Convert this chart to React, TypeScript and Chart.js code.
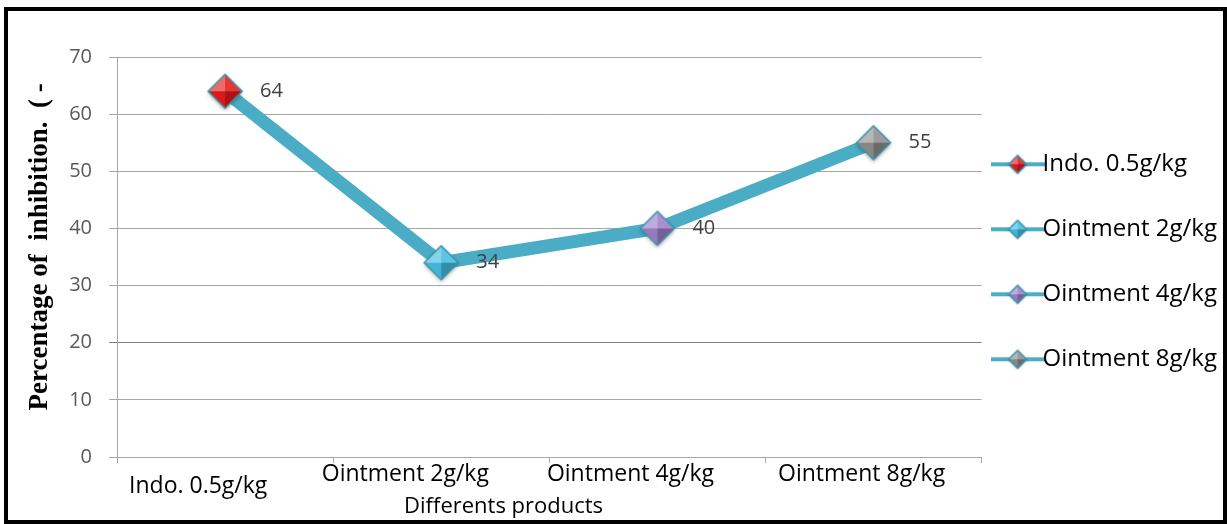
import React, { useEffect, useRef } from 'react';
import { Chart, registerables } from 'chart.js';

Chart.register(...registerables);

// ---- data ----
const categories = ['Indo. 0.5g/kg', 'Ointment 2g/kg', 'Ointment 4g/kg', 'Ointment 8g/kg'];
const values = [64, 34, 40, 55];
const markerColors = ['#E31B1B', '#45BDE2', '#9E80C9', '#8E8E8E'];
const yMin = 0;
const yMax = 70;
const yStep = 10;
const yTitle = 'Percentage of  inhibition.  ( -';
const xTitle = 'Differents products';

// ---- style / layout ----
const LINE_COLOR = '#4BACC6';
const MARKER_EDGE = '#3A94AA';
const GRID = '#a6a6a6';
const GRID_DARK = '#7f7f7f';
const SANS = '"Open Sans", "DejaVu Sans", sans-serif';
const tickShiftSpaces = [9, 12, 9, 4];
const xTitleShiftSpaces = 16;
const yTitleLeadSpaces = 3;

function shade(hex: string, amt: number): string {
  const n = parseInt(hex.slice(1), 16);
  let r = (n >> 16) & 255;
  let g = (n >> 8) & 255;
  let b = n & 255;
  const t = amt < 0 ? 0 : 255;
  const p = Math.abs(amt);
  r = Math.round(r + (t - r) * p);
  g = Math.round(g + (t - g) * p);
  b = Math.round(b + (t - b) * p);
  return `rgb(${r},${g},${b})`;
}

function drawDiamond(ctx: CanvasRenderingContext2D, cx: number, cy: number, r: number, color: string, shadow: number) {
  const L: [number, number] = [cx - r, cy];
  const T: [number, number] = [cx, cy - r];
  const R: [number, number] = [cx + r, cy];
  const B: [number, number] = [cx, cy + r];
  const path = () => {
    ctx.beginPath();
    ctx.moveTo(L[0], L[1]);
    ctx.lineTo(T[0], T[1]);
    ctx.lineTo(R[0], R[1]);
    ctx.lineTo(B[0], B[1]);
    ctx.closePath();
  };
  ctx.save();
  if (shadow > 0) {
    ctx.shadowColor = 'rgba(0,0,0,0.35)';
    ctx.shadowBlur = shadow;
    ctx.shadowOffsetY = shadow / 2;
  }
  path();
  ctx.fillStyle = color;
  ctx.fill();
  ctx.restore();
  const facets: Array<[[number, number], [number, number], number]> = [
    [L, T, 0.35],
    [T, R, 0.12],
    [R, B, -0.25],
    [B, L, -0.05],
  ];
  for (const [a, b, amt] of facets) {
    ctx.beginPath();
    ctx.moveTo(a[0], a[1]);
    ctx.lineTo(b[0], b[1]);
    ctx.lineTo(cx, cy);
    ctx.closePath();
    ctx.fillStyle = shade(color, amt);
    ctx.fill();
  }
  path();
  ctx.strokeStyle = MARKER_EDGE;
  ctx.lineWidth = 1.5;
  ctx.stroke();
}

function makeMarker(color: string, r: number): HTMLCanvasElement {
  const c = document.createElement('canvas');
  const size = 2 * r + 12;
  c.width = size;
  c.height = size;
  const ctx = c.getContext('2d')!;
  drawDiamond(ctx, size / 2, size / 2, r, color, 4);
  return c;
}

function makeLegendSwatch(color: string): HTMLCanvasElement {
  const c = document.createElement('canvas');
  c.width = 72;
  c.height = 24;
  const ctx = c.getContext('2d')!;
  ctx.strokeStyle = LINE_COLOR;
  ctx.lineWidth = 4;
  ctx.beginPath();
  ctx.moveTo(0, 12);
  ctx.lineTo(55, 12);
  ctx.stroke();
  drawDiamond(ctx, 27, 12, 9, color, 2);
  return c;
}

const valueLabels = {
  id: 'valueLabels',
  afterDatasetsDraw(chart: any) {
    const meta = chart.getDatasetMeta(0);
    const ctx = chart.ctx as CanvasRenderingContext2D;
    ctx.save();
    ctx.font = `20px ${SANS}`;
    ctx.fillStyle = '#404040';
    ctx.textAlign = 'left';
    ctx.textBaseline = 'middle';
    meta.data.forEach((pt: any, i: number) => {
      ctx.fillText(String(values[i]), pt.x + 35, pt.y);
    });
    ctx.restore();
  },
};

export default function App() {
  const ref = useRef<HTMLCanvasElement | null>(null);

  useEffect(() => {
    if (!ref.current) return;
    const markers = markerColors.map((c) => makeMarker(c, 17));
    const swatches = markerColors.map((c) => makeLegendSwatch(c));

    const chart = new Chart(ref.current, {
      type: 'line',
      data: {
        labels: categories,
        datasets: [
          {
            label: 'Inhibition',
            data: values,
            borderColor: LINE_COLOR,
            borderWidth: 13,
            borderCapStyle: 'round',
            borderJoinStyle: 'round',
            tension: 0,
            fill: false,
            pointStyle: markers as any,
            pointRadius: 17,
            pointHoverRadius: 17,
            pointBackgroundColor: markerColors,
            pointBorderColor: MARKER_EDGE,
          },
        ],
      },
      options: {
        responsive: false,
        animation: false,
        events: [],
        layout: { padding: { left: 10, top: 57, right: 0, bottom: 0 } },
        plugins: {
          tooltip: { enabled: false },
          legend: {
            position: 'right',
            fullSize: false,
            align: 'center',
            onClick: () => {},
            title: { display: true, text: ' ', font: { size: 8 }, padding: 0 },
            labels: {
              usePointStyle: true,
              pointStyleWidth: 8,
              padding: 41,
              color: '#000',
              font: { family: SANS, size: 24 },
              generateLabels: () =>
                categories.map((c, i) => ({
                  text: c,
                  pointStyle: swatches[i] as any,
                  fillStyle: markerColors[i],
                  strokeStyle: LINE_COLOR,
                  lineWidth: 0,
                  hidden: false,
                  datasetIndex: 0,
                  index: i,
                  fontColor: '#000',
                })),
            },
          },
        },
        scales: {
          x: {
            type: 'category',
            offset: true,
            grid: {
              display: true,
              offset: true,
              drawOnChartArea: false,
              drawTicks: true,
              tickLength: 6,
              color: GRID,
            },
            border: { display: true, color: GRID },
            ticks: {
              padding: 0,
              color: '#000',
              autoSkip: false,
              maxRotation: 0,
              font: (c: any) => ({ family: SANS, size: 23, lineHeight: c.index === 0 ? 2.0 : 1.0 }),
              callback: (_v: any, i: number) => categories[i] + ' '.repeat(tickShiftSpaces[i]),
            },
            title: {
              display: true,
              text: xTitle + ' '.repeat(xTitleShiftSpaces),
              color: '#000',
              font: { family: SANS, size: 22 },
              padding: { top: 0, bottom: 4 },
            },
            afterFit: (s: any) => {
              s.height = 67;
            },
          },
          y: {
            min: yMin,
            max: yMax,
            ticks: {
              stepSize: yStep,
              padding: 17,
              color: '#595959',
              font: { family: SANS, size: 20 },
            },
            grid: {
              color: (c: any) => (c.tick && c.tick.value === 20 ? GRID_DARK : GRID),
              tickLength: 8,
            },
            border: { display: true, color: GRID },
            title: {
              display: true,
              text: ' '.repeat(yTitleLeadSpaces) + yTitle,
              color: '#000',
              font: { family: '"Liberation Serif", "Times New Roman", serif', size: 27, weight: 'bold' },
              padding: { top: 14, bottom: 0 },
            },
            afterFit: (s: any) => {
              s.width = 107;
            },
          },
        },
      },
      plugins: [valueLabels],
    });
    return () => chart.destroy();
  }, []);

  return (
    <div style={{ position: 'absolute', left: 0, top: 0, width: 1227, height: 524, background: '#fff', overflow: 'hidden' }}>
      <canvas ref={ref} width={1227} height={524} style={{ position: 'absolute', left: 0, top: 0 }} />
      <div
        style={{
          position: 'absolute',
          left: 4,
          top: 7,
          width: 1223,
          height: 517,
          boxSizing: 'border-box',
          border: '4px solid #000',
          pointerEvents: 'none',
        }}
      />
    </div>
  );
}
